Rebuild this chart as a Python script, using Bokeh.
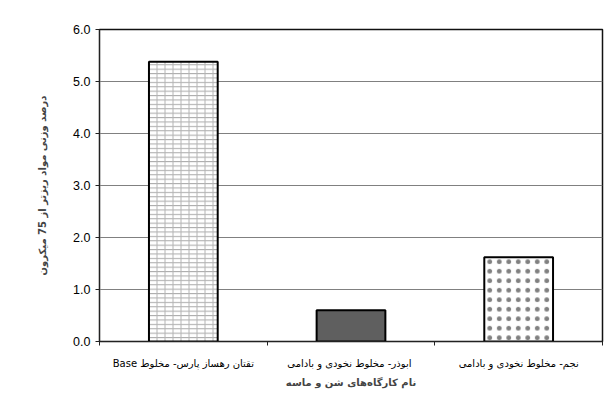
from bokeh.plotting import figure
from bokeh.models import FixedTicker, Range1d, BoxAnnotation
from bokeh.embed import file_html
from bokeh.resources import INLINE

categories = ["تقتان رهساز پارس- مخلوط Base", "ابوذر-  مخلوط نخودی و بادامی", "نجم- مخلوط نخودی و بادامی"]
values = [5.38, 0.6, 1.62]
y_ticks = [0, 1, 2, 3, 4, 5, 6]
y_label = "درصد وزنی مواد ریزتر از 75 میکرون"
x_label = "نام کارگاه‌های شن و ماسه"

RLE, PDF = "\u202b", "\u202c"
xs = [i + 0.5 for i in range(len(categories))]

p = figure(width=611, height=401, output_backend="svg", toolbar_location=None,
           x_range=Range1d(0, len(categories)), y_range=Range1d(0, 6),
           min_border_left=99, min_border_top=29, min_border_right=9, min_border_bottom=60)
p.outline_line_color = "#111111"
p.outline_line_width = 1.5
p.background_fill_color = "white"
p.border_fill_color = "white"

# outer chart-area border (left and top edges visible)
p.add_layout(BoxAnnotation(left=11, right=611, top=5, bottom=401,
                           left_units="canvas", right_units="canvas",
                           top_units="canvas", bottom_units="canvas",
                           fill_alpha=0, fill_color=None, line_color="#999999", line_width=1.5))

bw = 0.41
# bar 1: brick-like pattern
p.vbar(x=[xs[0]], top=[values[0]], width=bw, fill_color="white", line_color=None,
       hatch_pattern="horizontal_line", hatch_scale=4.4, hatch_color="#a8a8a8", hatch_weight=1)
p.vbar(x=[xs[0]], top=[values[0]], width=bw, fill_color=None, line_color="black", line_width=2,
       hatch_pattern="vertical_line", hatch_scale=8, hatch_color="#b4b4b4", hatch_weight=1)
# bar 2: solid dark gray
p.vbar(x=[xs[1]], top=[values[1]], width=bw, fill_color="#5f5f5f", line_color="black", line_width=2)
# bar 3: dot pattern
p.vbar(x=[xs[2]], top=[values[2]], width=bw, fill_color="white", line_color="black", line_width=2,
       hatch_pattern="dot", hatch_scale=9.5, hatch_color="#808080", hatch_weight=6)

p.xgrid.visible = False
p.ygrid.grid_line_color = "#808080"
p.ygrid.grid_line_width = 1

p.yaxis.ticker = FixedTicker(ticks=y_ticks)
p.yaxis.major_label_overrides = {t: f"{t:.1f}" for t in y_ticks}
p.yaxis.major_tick_out = 4
p.yaxis.major_tick_in = 0
p.yaxis.minor_tick_line_color = None
p.yaxis.axis_line_color = "#222222"
p.yaxis.major_tick_line_color = "#222222"
p.yaxis.major_label_text_font = "Liberation Sans"
p.yaxis.major_label_text_font_size = "12.5px"
p.yaxis.major_label_text_color = "black"
p.yaxis.major_label_standoff = 5
p.yaxis.axis_label = RLE + y_label + PDF
p.yaxis.axis_label_text_font = "DejaVu Sans"
p.yaxis.axis_label_text_font_size = "10px"
p.yaxis.axis_label_text_font_style = "bold"
p.yaxis.axis_label_standoff = 22

p.xaxis.ticker = FixedTicker(ticks=xs, minor_ticks=list(range(len(categories) + 1)))
p.xaxis.major_label_overrides = {x: RLE + c + PDF for x, c in zip(xs, categories)}
p.xaxis.major_tick_line_color = None
p.xaxis.major_tick_out = 0
p.xaxis.major_tick_in = 0
p.xaxis.minor_tick_out = 4
p.xaxis.minor_tick_in = 0
p.xaxis.minor_tick_line_color = "#222222"
p.xaxis.axis_line_color = "#222222"
p.xaxis.major_label_standoff = 12
p.xaxis.major_label_text_font = "DejaVu Sans"
p.xaxis.major_label_text_font_size = "10px"
p.xaxis.major_label_text_color = "black"
p.xaxis.axis_label = RLE + x_label + PDF
p.xaxis.axis_label_text_font = "DejaVu Sans"
p.xaxis.axis_label_text_font_size = "10px"
p.xaxis.axis_label_text_font_style = "bold"
p.xaxis.axis_label_standoff = 5

open("out.html", "w").write(file_html(p, INLINE))
